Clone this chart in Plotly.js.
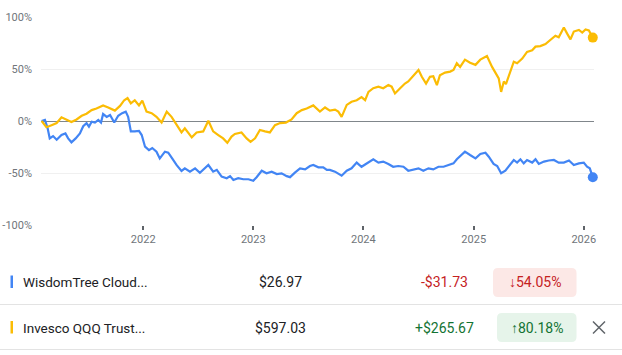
<!DOCTYPE html>
<html>
<head>
<meta charset="utf-8">
<script src="https://cdn.plot.ly/plotly-3.0.1.min.js"></script>
<style>
html,body{margin:0;padding:0;background:#fff;}
#chart{width:622px;height:355px;}
</style>
</head>
<body>
<div id="chart"></div>
<script>
// ---- Data (percent change since start) ----
const qqqName = "Invesco QQQ Trust...";
const wcldName = "WisdomTree Cloud...";

const qqqDates = ['2021-01-29','2021-02-14','2021-03-03','2021-03-20','2021-04-05','2021-04-22','2021-05-08','2021-05-25','2021-06-11','2021-06-27','2021-07-14','2021-07-30','2021-08-21','2021-09-07','2021-09-29','2021-10-16','2021-10-30','2021-11-10','2021-11-21','2021-12-04','2021-12-18','2021-12-29',
'2022-01-12','2022-01-29','2022-02-14','2022-03-03','2022-03-20','2022-04-05','2022-04-22','2022-05-08','2022-05-19','2022-06-11','2022-06-27','2022-07-19','2022-08-05','2022-08-21','2022-09-07','2022-09-23','2022-10-07','2022-10-21','2022-11-01','2022-11-23','2022-12-10','2022-12-23',
'2023-01-07','2023-01-23','2023-02-09','2023-02-25','2023-03-14','2023-03-31','2023-04-19','2023-05-08','2023-05-25','2023-06-11','2023-06-27','2023-07-19','2023-08-10','2023-08-27','2023-09-12','2023-09-29','2023-10-10','2023-10-21','2023-11-07','2023-11-23','2023-12-10','2023-12-26',
'2024-01-07','2024-01-18','2024-02-03','2024-02-20','2024-03-07','2024-03-24','2024-04-04','2024-04-15','2024-05-02','2024-05-18','2024-05-29','2024-06-15','2024-07-02','2024-07-13','2024-07-27','2024-08-09','2024-08-20','2024-09-01','2024-09-11','2024-09-28','2024-10-15','2024-10-26','2024-11-06','2024-11-17','2024-12-03','2024-12-20',
'2025-01-07','2025-01-23','2025-02-14','2025-03-03','2025-03-14','2025-03-25','2025-04-02','2025-04-11','2025-04-18','2025-05-03','2025-05-14','2025-05-25','2025-06-11','2025-06-27','2025-07-14','2025-07-25','2025-08-10','2025-08-27','2025-09-12','2025-09-29','2025-10-10','2025-10-27','2025-11-07','2025-11-18','2025-11-29','2025-12-16','2025-12-27',
'2026-01-07','2026-01-18','2026-01-31'];
const qqqPct = [0,-6,-4,-2,3.5,1.5,-1,1.5,5,7,10.5,12,15,13,10,14.5,20,22,17,20,15,19.5,
9,7.5,4,-1.5,9,4,-4,-11,-7,-15.7,-11,-10,0.3,-10,-13.5,-16.7,-21,-15,-12.5,-11,-16.7,-20,
-16.7,-8.7,-10,-11,-4,-2,-1.5,1.5,7.5,10.5,12,15,9,13,10,11,9,4,15.5,18.5,20,23,
20,28,31.5,33,31.5,34.5,33,26.5,31.5,36,38,44,49,42.5,36,42.5,43,34.5,44,46.5,47.5,49,55.5,52,59,56,
54,59,62.5,52,46,41,28,38,35.5,47.5,57,55.5,60,66.5,68,71.5,72,74,78,82,80.5,90,84,78.5,86,87.5,85,
88,87,80.18];

const wcldDates = ['2021-01-29','2021-02-09','2021-02-18','2021-02-25','2021-03-08','2021-03-20','2021-04-05','2021-04-18','2021-04-27','2021-05-08','2021-05-22','2021-06-05','2021-06-16','2021-06-27','2021-07-05','2021-07-14','2021-07-25','2021-08-05','2021-08-14','2021-08-21','2021-09-02','2021-09-13','2021-09-27','2021-10-10','2021-10-23','2021-11-04','2021-11-12','2021-11-21','2021-12-04','2021-12-18','2021-12-27',
'2022-01-07','2022-01-20','2022-01-31','2022-02-14','2022-02-25','2022-03-14','2022-03-25','2022-04-07','2022-04-22','2022-05-08','2022-05-19','2022-06-05','2022-06-22','2022-07-08','2022-07-19','2022-08-05','2022-08-21','2022-09-02','2022-09-18','2022-10-05','2022-10-16','2022-10-27','2022-11-12','2022-11-29','2022-12-16',
'2023-01-01','2023-01-12','2023-01-29','2023-02-14','2023-03-03','2023-03-20','2023-04-05','2023-04-22','2023-05-03','2023-05-19','2023-06-05','2023-06-22','2023-07-08','2023-07-19','2023-08-05','2023-08-21','2023-09-02','2023-09-12','2023-09-29','2023-10-21','2023-11-07','2023-11-23','2023-12-10','2023-12-26',
'2024-01-12','2024-02-03','2024-02-20','2024-03-07','2024-03-24','2024-04-09','2024-04-26','2024-05-13','2024-05-29','2024-06-15','2024-07-02','2024-07-18','2024-08-04','2024-08-20','2024-09-06','2024-09-23','2024-10-09','2024-10-26','2024-11-06','2024-11-23','2024-12-03','2024-12-20',
'2025-01-07','2025-01-23','2025-02-09','2025-02-20','2025-03-08','2025-03-20','2025-04-02','2025-04-16','2025-04-29','2025-05-14','2025-05-25','2025-06-05','2025-06-16','2025-06-27','2025-07-14','2025-07-25','2025-08-05','2025-08-22','2025-09-07','2025-09-24','2025-10-10','2025-10-27','2025-11-13','2025-11-29','2025-12-16',
'2026-01-01','2026-01-12','2026-01-21','2026-01-31'];
const wcldPct = [0,1,-7,-16.7,-14.5,-18,-13.5,-12,-16.7,-20.5,-16.7,-12,-5,-2,-5.5,-0.7,-1.5,1,-1.5,6.7,4,5.8,-1.5,5,7.5,9,4,-10,-10,-9.5,-13.5,
-24.7,-28,-26,-29.5,-36,-29.5,-30.5,-36,-42.5,-48,-45.5,-48.7,-45.5,-49.7,-47,-42.3,-48.7,-47,-53.5,-55,-53,-56.7,-55,-56,-56,
-57.4,-54,-47.8,-50.3,-48.7,-51,-50.3,-53,-54,-49.7,-45.5,-46.5,-43.3,-42.3,-44.5,-44.5,-47,-47,-48.7,-52.6,-47.8,-45.5,-40,-44,
-40.7,-36.8,-40,-39,-41.3,-44,-43.3,-44,-47.8,-46.5,-45.5,-47.8,-45.5,-46.5,-44,-44,-42.3,-40.7,-36.8,-32.7,-29.5,-32.7,
-35.9,-31.7,-30.5,-34.3,-41.3,-43.3,-50.3,-47.8,-43.3,-37.5,-40,-36.8,-40.7,-37.5,-40,-36.8,-41.3,-39,-38,-37.5,-40,-40,-38,-42.3,-40.7,
-40,-44,-45.5,-54.05];

const yTickVals = [-100,-50,0,50,100];
const yTickText = ['-100%','-50%','0%','50%','100%'];

// table values
const wcldPrice = '$26.97', wcldChange = '-$31.73', wcldChangePct = '↓54.05%';
const qqqPrice = '$597.03', qqqChange = '+$265.67', qqqChangePct = '↑80.18%';

// ---- Colors / layout helpers ----
const BLUE = '#4285f4', YELLOW = '#fbbc04';
const W = 622, H = 355, ML = 41, MR = 28, MT = 17, MB = 130;
const PW = W - ML - MR, PH = H - MT - MB;
const X = px => (px - ML) / PW;
const Y = py => (H - MB - py) / PH;
function rr(x0, y0, x1, y1, r) {
  return `M${X(x0+r)},${Y(y0)} L${X(x1-r)},${Y(y0)} Q${X(x1)},${Y(y0)} ${X(x1)},${Y(y0+r)} ` +
         `L${X(x1)},${Y(y1-r)} Q${X(x1)},${Y(y1)} ${X(x1-r)},${Y(y1)} L${X(x0+r)},${Y(y1)} ` +
         `Q${X(x0)},${Y(y1)} ${X(x0)},${Y(y1-r)} L${X(x0)},${Y(y0+r)} Q${X(x0)},${Y(y0)} ${X(x0+r)},${Y(y0)} Z`;
}

const traces = [
  {x: wcldDates, y: wcldPct, type: 'scatter', mode: 'lines', line: {color: BLUE, width: 2.2}, hoverinfo: 'skip'},
  {x: qqqDates, y: qqqPct, type: 'scatter', mode: 'lines', line: {color: YELLOW, width: 2.2}, hoverinfo: 'skip'},
  {x: [wcldDates[wcldDates.length-1]], y: [wcldPct[wcldPct.length-1]], type: 'scatter', mode: 'markers',
   marker: {color: BLUE, size: 10}, cliponaxis: false, hoverinfo: 'skip'},
  {x: [qqqDates[qqqDates.length-1]], y: [qqqPct[qqqPct.length-1]], type: 'scatter', mode: 'markers',
   marker: {color: YELLOW, size: 10}, cliponaxis: false, hoverinfo: 'skip'}
];

const FONT = 'Roboto, Arial, sans-serif';
const tableFont = (c, s) => ({family: FONT, size: s || 14, color: c});
const row1 = 282, row2 = 327.5;
const ann = (text, x, y, xanchor, font) => ({text, x: X(x), y: Y(y), xref: 'paper', yref: 'paper',
  xanchor, yanchor: 'middle', showarrow: false, font});

const annotations = [
  ann(wcldName, 21, row1, 'left', tableFont('#202124', 13.5)),
  ann(wcldPrice, 280, row1, 'center', tableFont('#202124')),
  ann(wcldChange, 444, row1, 'center', tableFont('#c5221f')),
  ann(wcldChangePct, 535, row1, 'center', tableFont('#c5221f')),
  ann(qqqName, 21, row2, 'left', tableFont('#202124', 13.5)),
  ann(qqqPrice, 280, row2, 'center', tableFont('#202124')),
  ann(qqqChange, 444, row2, 'center', tableFont('#137333')),
  ann(qqqChangePct, 537, row2, 'center', tableFont('#137333'))
];

const shapes = [
  // color bars
  {type: 'rect', xref: 'paper', yref: 'paper', x0: X(10.5), x1: X(13), y0: Y(275.5), y1: Y(288), fillcolor: BLUE, line: {width: 0}},
  {type: 'rect', xref: 'paper', yref: 'paper', x0: X(10.5), x1: X(13), y0: Y(321), y1: Y(333.5), fillcolor: YELLOW, line: {width: 0}},
  // pills
  {type: 'path', xref: 'paper', yref: 'paper', path: rr(493, 268, 576.5, 297, 5), fillcolor: '#fce8e6', line: {width: 0}, layer: 'below'},
  {type: 'path', xref: 'paper', yref: 'paper', path: rr(497, 313, 576.5, 342, 5), fillcolor: '#e6f4ea', line: {width: 0}, layer: 'below'},
  // separators
  {type: 'line', xref: 'paper', yref: 'paper', x0: X(0), x1: X(622), y0: Y(304.5), y1: Y(304.5), line: {color: '#e3e3e3', width: 1}},
  {type: 'line', xref: 'paper', yref: 'paper', x0: X(0), x1: X(622), y0: Y(349.5), y1: Y(349.5), line: {color: '#e3e3e3', width: 1}},
  // close icon
  {type: 'line', xref: 'paper', yref: 'paper', x0: X(593), x1: X(605), y0: Y(321.5), y1: Y(333.5), line: {color: '#5f6368', width: 1.5}},
  {type: 'line', xref: 'paper', yref: 'paper', x0: X(593), x1: X(605), y0: Y(333.5), y1: Y(321.5), line: {color: '#5f6368', width: 1.5}}
];

const layout = {
  width: W, height: H,
  margin: {l: ML, r: MR, t: MT, b: MB, pad: 0},
  paper_bgcolor: '#fff', plot_bgcolor: '#fff',
  showlegend: false,
  font: {family: FONT, color: '#70757a', size: 11},
  xaxis: {
    type: 'date', range: ['2021-01-27', '2026-02-04'],
    tick0: '2022-01-01', dtick: 'M12', tickformat: '%Y',
    showgrid: false, zeroline: false, showline: false,
    ticks: 'outside', ticklen: 4, tickwidth: 2, tickcolor: '#5f6368',
    tickfont: {family: FONT, size: 11, color: '#70757a'},
    fixedrange: true
  },
  yaxis: {
    range: [-100, 100], tickmode: 'array', tickvals: yTickVals, ticktext: yTickText,
    showgrid: true, gridcolor: '#f0f0f0', gridwidth: 1,
    zeroline: true, zerolinecolor: '#80868b', zerolinewidth: 1,
    showline: false, ticks: '', ticklabelstandoff: 8,
    tickfont: {family: FONT, size: 11, color: '#70757a'},
    fixedrange: true
  },
  annotations: annotations,
  shapes: shapes
};

Plotly.newPlot('chart', traces, layout, {displayModeBar: false, staticPlot: true});
</script>
</body>
</html>
